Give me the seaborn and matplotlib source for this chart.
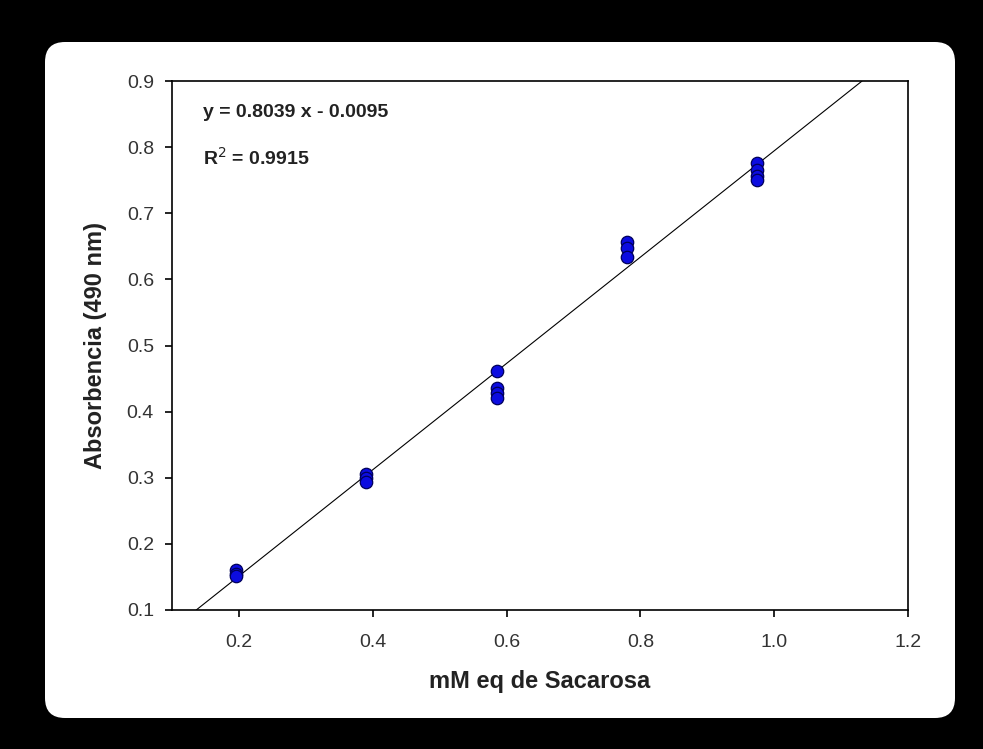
import matplotlib
matplotlib.use("Agg")
import matplotlib.pyplot as plt
import seaborn as sns
import pandas as pd
from matplotlib.patches import FancyBboxPatch

# Datos
concentracion = [0.195, 0.195, 0.195,
                 0.39, 0.39, 0.39,
                 0.585, 0.585, 0.585, 0.585,
                 0.78, 0.78, 0.78,
                 0.975, 0.975, 0.975, 0.975]
absorbancia = [0.160, 0.155, 0.151,
               0.306, 0.300, 0.293,
               0.461, 0.436, 0.428, 0.421,
               0.657, 0.648, 0.634,
               0.776, 0.766, 0.757, 0.751]

pendiente = 0.8039
intercepto = -0.0095
texto_ecuacion = "y = 0.8039 x - 0.0095"
texto_r2 = "R$^2$ = 0.9915"

xticks = [0.2, 0.4, 0.6, 0.8, 1.0, 1.2]
yticks = [0.1, 0.2, 0.3, 0.4, 0.5, 0.6, 0.7, 0.8, 0.9]

df = pd.DataFrame({"x": concentracion, "y": absorbancia})

sns.set_style("white")
plt.rcParams['font.family'] = ['Liberation Sans', 'DejaVu Sans']
angosta = ['Liberation Sans Narrow', 'Liberation Sans', 'DejaVu Sans']

fig = plt.figure(figsize=(9.83, 7.49), dpi=100)
fig.patch.set_facecolor("black")

# Panel blanco con esquinas redondeadas (en un eje de fondo)
fondo = fig.add_axes([0, 0, 1, 1], zorder=-5)
fondo.set_axis_off()
fondo.set_xlim(0, 983)
fondo.set_ylim(749, 0)
fondo.add_patch(FancyBboxPatch((45, 42), 910, 676,
                               boxstyle="round,pad=0,rounding_size=20",
                               facecolor="white", edgecolor="none"))

ax = fig.add_axes([172 / 983, 1 - 610 / 749, 736 / 983, 529 / 749])
ax.set_facecolor("white")

sns.scatterplot(data=df, x="x", y="y", ax=ax, s=80, color="#0c0ce0",
                edgecolor="#00005a", linewidth=0.9, zorder=3, legend=False)
ax.axline((0, intercepto), slope=pendiente, color="black", lw=0.8, zorder=2)

ax.set_xlim(0.1, 1.2)
ax.set_ylim(0.1, 0.9)
ax.set_xticks(xticks)
ax.set_yticks(yticks)
ax.set_xticklabels([f"{v:.1f}" for v in xticks], family=angosta, fontsize=14)
ax.set_yticklabels([f"{v:.1f}" for v in yticks], family=angosta, fontsize=14)

for s in ax.spines.values():
    s.set_visible(True)
    s.set_color("black")
    s.set_linewidth(1.2)

ax.tick_params(axis="both", direction="out", length=5, width=1.2,
               colors="black", bottom=True, left=True, top=False, right=False)
ax.tick_params(axis="x", pad=12)
ax.tick_params(axis="y", pad=8)
for lab in ax.get_xticklabels() + ax.get_yticklabels():
    lab.set_color("#333333")

ax.set_xlabel("mM eq de Sacarosa", fontsize=17, fontweight="bold", labelpad=14,
              color="#222222")
ax.set_ylabel("Absorbencia (490 nm)", fontsize=17, fontweight="bold", labelpad=14,
              color="#222222")

ax.text(0.042, 0.94, texto_ecuacion, transform=ax.transAxes, fontsize=14,
        fontweight="bold", color="#222222", va="center", family=angosta)
ax.text(0.042, 0.854, texto_r2, transform=ax.transAxes, fontsize=14,
        fontweight="bold", color="#222222", va="center", family=angosta)

fig.savefig("out.png", dpi=100, facecolor=fig.get_facecolor())
